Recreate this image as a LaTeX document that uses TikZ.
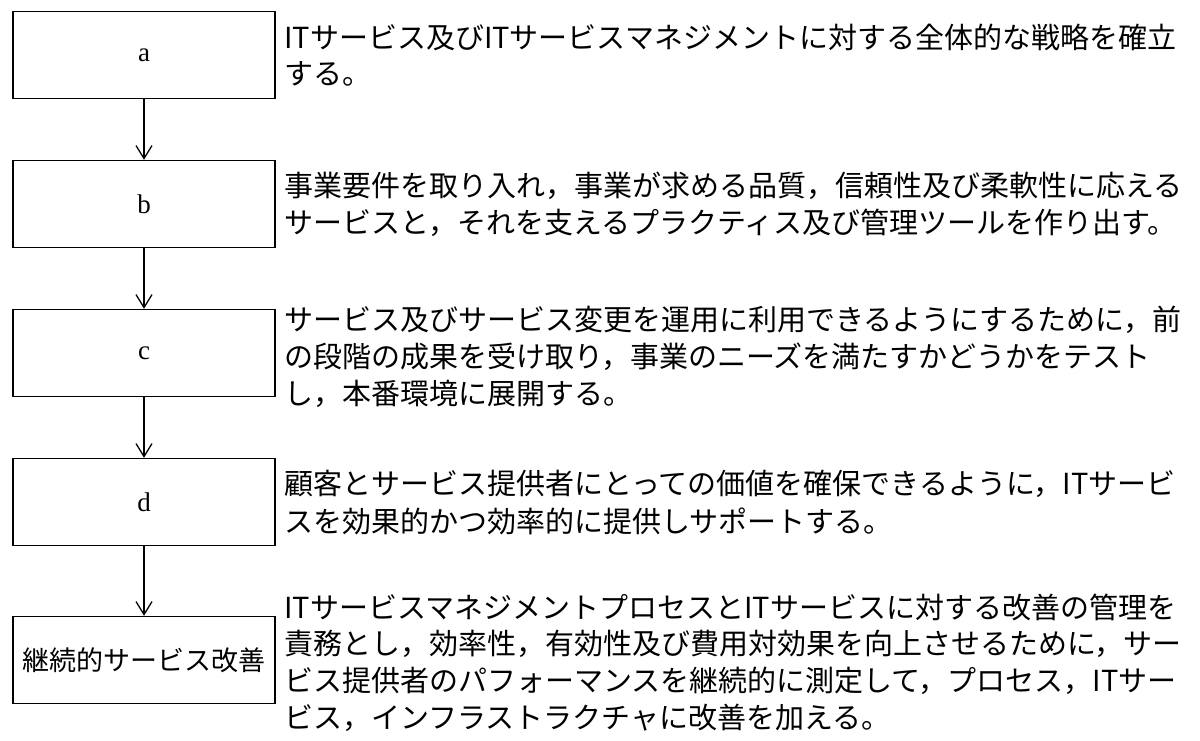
\documentclass[tikz,border=0pt]{standalone}
\usepackage{fontspec}
\setmainfont{Liberation Serif}
\newfontfamily\cjk{Noto Sans CJK JP}
\usetikzlibrary{arrows.meta}
\tikzset{
 stagebox/.style={draw,line width=1.4pt,minimum width=262pt,minimum height=87pt,inner sep=0pt,font=\fontsize{27}{32}\selectfont},
 desc/.style={anchor=west,inner sep=0pt,font=\cjk\fontsize{29}{36}\selectfont},
 flow/.style={-{Straight Barb[length=13pt,width=16pt]},line width=1.3pt}
}
\begin{document}
\begin{tikzpicture}[x=1pt,y=-1pt]
\useasboundingbox (0,0) rectangle (1200,740);
\node[stagebox] (a) at (144,55) {a};
\node[stagebox] (b) at (144,204) {b};
\node[stagebox] (c) at (144,353) {c};
\node[stagebox] (d) at (144,502) {d};
\node[stagebox,font=\cjk\fontsize{27}{32}\selectfont] (e) at (144,660) {継続的サービス改善};
\draw[flow] (a) -- (b);
\draw[flow] (b) -- (c);
\draw[flow] (c) -- (d);
\draw[flow] (d) -- (e);
\node[desc] (t1) at (284,37) {ITサービス及びITサービスマネジメントに対する全体的な戦略を確立};
\node[desc] (t2) at (284,74) {する。};
\node[desc] (t3) at (284,186) {事業要件を取り入れ，事業が求める品質，信頼性及び柔軟性に応える};
\node[desc] (t4) at (284,223) {サービスと，それを支えるプラクティス及び管理ツールを作り出す。};
\node[desc] (t5) at (284,320) {サービス及びサービス変更を運用に利用できるようにするために，前};
\node[desc] (t6) at (284,357) {の段階の成果を受け取り，事業のニーズを満たすかどうかをテスト};
\node[desc] (t7) at (284,394) {し，本番環境に展開する。};
\node[desc] (t8) at (284,484) {顧客とサービス提供者にとっての価値を確保できるように，ITサービ};
\node[desc] (t9) at (284,521) {スを効果的かつ効率的に提供しサポートする。};
\node[desc] (t10) at (284,607) {ITサービスマネジメントプロセスとITサービスに対する改善の管理を};
\node[desc] (t11) at (284,644) {責務とし，効率性，有効性及び費用対効果を向上させるために，サー};
\node[desc] (t12) at (284,681) {ビス提供者のパフォーマンスを継続的に測定して，プロセス，ITサー};
\node[desc] (t13) at (284,718) {ビス，インフラストラクチャに改善を加える。};
\end{tikzpicture}
\end{document}
